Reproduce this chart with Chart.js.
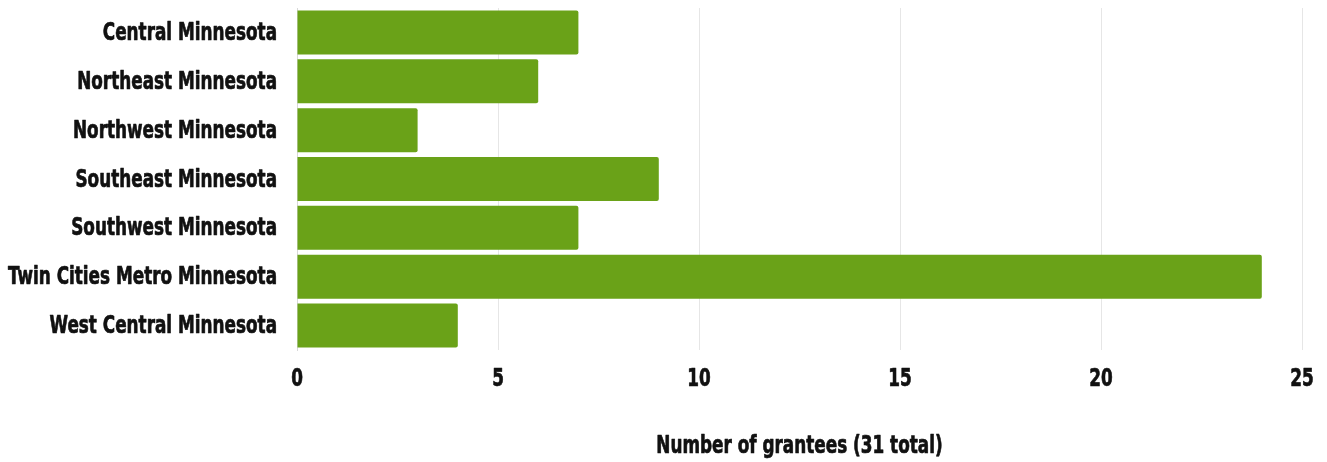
<!DOCTYPE html>
<html>
<head>
<meta charset="utf-8">
<script src="https://cdn.jsdelivr.net/npm/chart.js@4"></script>
<style>
  html, body { margin: 0; padding: 0; background: #fff; }
  #wrap { width: 1327px; height: 462px; }
</style>
</head>
<body>
<div id="wrap"><canvas id="grantees"></canvas></div>
<script>
const regions = [
    'Central Minnesota', 'Northeast Minnesota', 'Northwest Minnesota',
    'Southeast Minnesota', 'Southwest Minnesota', 'Twin Cities Metro Minnesota',
    'West Central Minnesota'
];
const granteeCounts = [7, 6, 3, 9, 7, 24, 4];
const xTicks = [0, 5, 10, 15, 20, 25];
const xTitle = 'Number of grantees (31 total)';

const barColor = '#6aa218';
const textColor = '#111';
const fontFamily = "'DejaVu Sans Condensed', 'Liberation Sans Narrow', sans-serif";
const labelFont = 'bold 25px ' + fontFamily;

// No narrow bold face is installed, so labels are squeezed horizontally
// until the longest region name fits the label column.
function squeezeFactor(ctx) {
    ctx.save();
    ctx.font = labelFont;
    const w = ctx.measureText('Twin Cities Metro Minnesota').width;
    ctx.restore();
    return Math.min(1, 269 / w);
}

function drawNarrow(ctx, text, x, y, align, k) {
    ctx.save();
    ctx.translate(x, y);
    ctx.scale(k, 1);
    ctx.textAlign = align;
    ctx.textBaseline = 'middle';
    ctx.fillText(text, 0, 0);
    ctx.strokeText(text, 0, 0); // thin outline makes the face a bit heavier
    ctx.restore();
}

const narrowLabels = {
    id: 'narrowLabels',
    afterDraw(chart) {
        const { ctx, chartArea, scales } = chart;
        const k = squeezeFactor(ctx);
        ctx.save();
        ctx.font = labelFont;
        ctx.fillStyle = textColor;
        ctx.strokeStyle = textColor;
        ctx.lineWidth = 0.7;
        ctx.lineJoin = 'round';

        chart.data.labels.forEach((label, i) => {
            drawNarrow(ctx, label, chartArea.left - 20, scales.y.getPixelForValue(i) + 1, 'right', k);
        });

        xTicks.forEach(v => {
            drawNarrow(ctx, String(v), scales.x.getPixelForValue(v), chartArea.bottom + 29, 'center', k);
        });

        drawNarrow(ctx, xTitle, (chartArea.left + chartArea.right) / 2, chartArea.bottom + 96, 'center', k);
        ctx.restore();
    }
};

new Chart(document.getElementById('grantees'), {
    type: 'bar',
    data: {
        labels: regions,
        datasets: [{
            data: granteeCounts,
            backgroundColor: barColor,
            borderRadius: 2,
            borderSkipped: 'start',
            barPercentage: 0.9,
            categoryPercentage: 1
        }]
    },
    options: {
        indexAxis: 'y',
        responsive: true,
        maintainAspectRatio: false,
        animation: false,
        layout: { padding: { top: 8, right: 25, left: 0, bottom: 0 } },
        plugins: {
            legend: { display: false },
            tooltip: { enabled: false }
        },
        scales: {
            x: {
                min: 0,
                max: 25,
                afterBuildTicks: axis => { axis.ticks = xTicks.map(v => ({ value: v })); },
                afterFit: axis => {
                    axis.height = 112;
                    axis.paddingLeft = 0;
                    axis.paddingRight = 0;
                },
                grid: { color: '#e6e6e6', drawTicks: false },
                border: { display: false },
                ticks: { display: false }
            },
            y: {
                afterFit: axis => {
                    axis.width = 297;
                    axis.paddingTop = 0;
                    axis.paddingBottom = 0;
                },
                grid: { display: false, drawTicks: false },
                border: { display: true, color: '#d8d8d8' },
                ticks: { display: false }
            }
        }
    },
    plugins: [narrowLabels]
});
</script>
</body>
</html>
